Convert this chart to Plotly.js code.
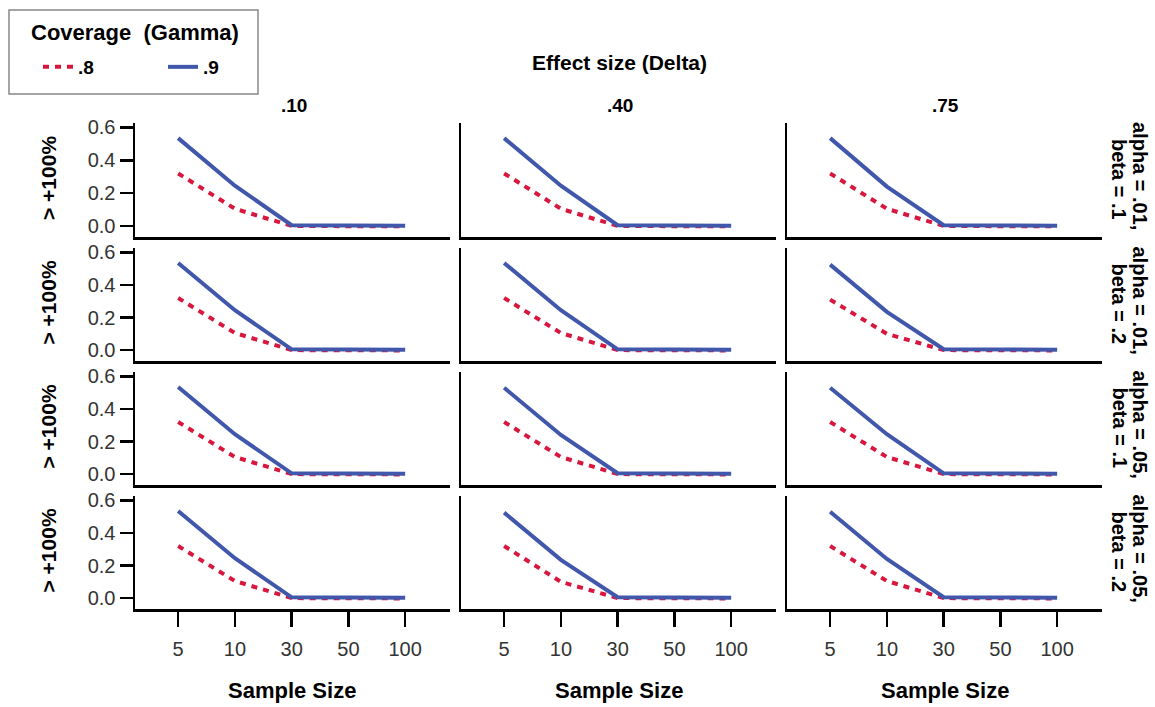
<!DOCTYPE html>
<html>
<head>
<meta charset="utf-8">
<script src="https://cdn.plot.ly/plotly-3.0.1.min.js"></script>
<style>html,body{margin:0;padding:0;background:#fff;}#chart{width:1155px;height:707px;}</style>
</head>
<body>
<div id="chart"></div>
<script>
// ---- data ----
const sampleSizes = ['5', '10', '30', '50', '100'];
const deltaLabels = ['.10', '.40', '.75'];
const alphaLabels = ['alpha = .01,', 'alpha = .01,', 'alpha = .05,', 'alpha = .05,'];
const betaLabels = ['beta = .1', 'beta = .2', 'beta = .1', 'beta = .2'];
const gammaNames = ['.8', '.9'];
const yTickVals = [0, 0.2, 0.4, 0.6];
const yTickText = ['0.0', '0.2', '0.4', '0.6'];

// proportion > +100% for coverage .8 (rows: alpha/beta, cols: delta)
const gamma80Row1 = [[0.32, 0.105, 0.0, -0.002, -0.002], [0.32, 0.105, 0.0, -0.002, -0.002], [0.32, 0.105, 0.0, -0.002, -0.002]];
const gamma80Row2 = [[0.32, 0.105, 0.0, -0.002, -0.002], [0.32, 0.105, 0.0, -0.002, -0.002], [0.31, 0.10, 0.0, -0.002, -0.002]];
const gamma80Row3 = [[0.32, 0.105, 0.0, -0.002, -0.002], [0.32, 0.105, 0.0, -0.002, -0.002], [0.32, 0.105, 0.0, -0.002, -0.002]];
const gamma80Row4 = [[0.32, 0.105, 0.0, -0.002, -0.002], [0.32, 0.10, 0.0, -0.002, -0.002], [0.32, 0.105, 0.0, -0.002, -0.002]];
// proportion > +100% for coverage .9
const gamma90Row1 = [[0.535, 0.245, 0.005, 0.003, 0.002], [0.535, 0.245, 0.005, 0.003, 0.002], [0.535, 0.24, 0.005, 0.003, 0.002]];
const gamma90Row2 = [[0.535, 0.245, 0.005, 0.003, 0.002], [0.535, 0.245, 0.005, 0.003, 0.002], [0.525, 0.235, 0.005, 0.003, 0.002]];
const gamma90Row3 = [[0.535, 0.245, 0.005, 0.003, 0.002], [0.53, 0.24, 0.005, 0.003, 0.002], [0.53, 0.245, 0.005, 0.003, 0.002]];
const gamma90Row4 = [[0.535, 0.245, 0.005, 0.003, 0.002], [0.525, 0.235, 0.005, 0.003, 0.002], [0.53, 0.24, 0.005, 0.003, 0.002]];

const gamma80 = [gamma80Row1, gamma80Row2, gamma80Row3, gamma80Row4];
const gamma90 = [gamma90Row1, gamma90Row2, gamma90Row3, gamma90Row4];

// ---- layout geometry (pixels) ----
const W = 1155, H = 707;
const colPx = [[135, 450], [461, 776], [787, 1102]];
const rowPx = [[123, 237], [248, 361], [372, 485], [496, 609]];
const px = x => x / W;
const py = y => 1 - y / H;

const FONT = 'Liberation Sans, Arial, sans-serif';
const RED = '#d8173f';
const BLUE = '#4157ab';

const traces = [];
const layout = {
  width: W, height: H,
  margin: {l: 0, r: 0, t: 0, b: 0},
  paper_bgcolor: '#fff', plot_bgcolor: '#fff',
  font: {family: FONT, color: '#000'},
  showlegend: true,
  legend: {
    orientation: 'h', x: px(38), y: py(48), xanchor: 'left', yanchor: 'top',
    bgcolor: 'rgba(0,0,0,0)', borderwidth: 0,
    font: {family: FONT, size: 19, color: '#000', weight: 'bold'},
    entrywidth: 80, entrywidthmode: 'pixels', itemclick: false
  },
  annotations: [], shapes: []
};

for (let r = 0; r < 4; r++) {
  for (let c = 0; c < 3; c++) {
    const k = r * 3 + c + 1;
    const xa = 'x' + (k === 1 ? '' : k), ya = 'y' + (k === 1 ? '' : k);
    traces.push({
      x: sampleSizes, y: gamma80[r][c], xaxis: xa, yaxis: ya, type: 'scatter', mode: 'lines',
      name: gammaNames[0], legendgroup: 'g8', showlegend: k === 1,
      line: {color: RED, width: 4, dash: '6px,6px'}, hoverinfo: 'skip'
    });
    traces.push({
      x: sampleSizes, y: gamma90[r][c], xaxis: xa, yaxis: ya, type: 'scatter', mode: 'lines',
      name: gammaNames[1], legendgroup: 'g9', showlegend: k === 1,
      line: {color: BLUE, width: 4}, hoverinfo: 'skip'
    });
    const bottom = r === 3, left = c === 0;
    layout['xaxis' + (k === 1 ? '' : k)] = {
      domain: [px(colPx[c][0]), px(colPx[c][1])],
      anchor: ya, type: 'category', categoryorder: 'array', categoryarray: sampleSizes,
      range: [-0.76, 4.79], fixedrange: true,
      showline: true, linecolor: '#000', linewidth: 2.5, showgrid: false, zeroline: false,
      ticks: bottom ? 'outside' : '', ticklen: 15, tickwidth: 2.5, tickcolor: '#000',
      ticklabelstandoff: 5,
      showticklabels: bottom, tickfont: {family: FONT, size: 20, color: '#333'}
    };
    layout['yaxis' + (k === 1 ? '' : k)] = {
      domain: [py(rowPx[r][1]), py(rowPx[r][0])],
      anchor: xa, range: [-0.067, 0.627], fixedrange: true,
      showline: true, linecolor: '#000', linewidth: 2.5, showgrid: false, zeroline: false,
      ticks: left ? 'outside' : '', ticklen: 13, tickwidth: 2.5, tickcolor: '#000',
      tickvals: yTickVals, ticktext: yTickText,
      showticklabels: left, tickfont: {family: FONT, size: 20, color: '#333'}
    };
  }
}

const ann = (text, x, y, size, extra) => Object.assign({
  text, x: px(x), y: py(y), xref: 'paper', yref: 'paper', showarrow: false,
  xanchor: 'center', yanchor: 'middle',
  font: {family: FONT, size, color: '#000', weight: 'bold'}
}, extra || {});

layout.annotations.push(ann('Effect size (Delta)', 619, 62, 21));
deltaLabels.forEach((d, c) => layout.annotations.push(ann(d, (colPx[c][0] + colPx[c][1]) / 2 + 1, 105, 19)));
for (let c = 0; c < 3; c++) layout.annotations.push(ann('Sample Size', (colPx[c][0] + colPx[c][1]) / 2, 690, 22));
for (let r = 0; r < 4; r++) {
  const cy = (rowPx[r][0] + rowPx[r][1]) / 2;
  layout.annotations.push(ann('&gt; +100%', 48, cy - 2, 21, {textangle: -90}));
  layout.annotations.push(ann(alphaLabels[r], 1140, cy - 4, 20, {textangle: 90}));
  layout.annotations.push(ann(betaLabels[r], 1119, cy - 1, 20, {textangle: 90}));
}
// legend box + title
layout.shapes.push({type: 'rect', xref: 'paper', yref: 'paper', x0: px(9), x1: px(258), y0: py(94), y1: py(10),
  line: {color: '#888', width: 1.5}, fillcolor: 'rgba(0,0,0,0)'});
layout.annotations.push(ann('Coverage&nbsp; (Gamma)', 135, 32, 22));

Plotly.newPlot('chart', traces, layout, {staticPlot: true, displayModeBar: false});
</script>
</body>
</html>
